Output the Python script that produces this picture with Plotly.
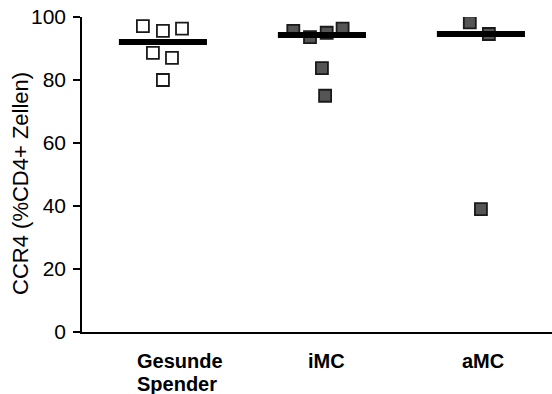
import numpy as np
import plotly.graph_objects as go

categories = ["Gesunde<br>Spender", "iMC", "aMC"]
values_gesund = [97.1, 95.6, 96.3, 88.6, 87.0, 80.0]
values_imc = [95.6, 93.6, 95.0, 96.3, 83.8, 75.0]
values_amc = [98.3, 94.6, 39.0]
y_ticks = [0, 20, 40, 60, 80, 100]
y_title = "CCR4 (%CD4+ Zellen)"

# horizontal jitter (in category units) used to spread overlapping points
jitter = [
    [-0.126, 0.0, 0.12, -0.063, 0.057, 0.0],
    [-0.18, -0.075, 0.03, 0.13, 0.0, 0.02],
    [-0.07, 0.05, 0.0],
]
groups = [values_gesund, values_imc, values_amc]
fills = ["white", "#555555", "#555555"]
label_shift = [14, 5, 2]
FONT = "Liberation Sans, Arial, sans-serif"

fig = go.Figure()
for i, (vals, jit) in enumerate(zip(groups, jitter)):
    fig.add_trace(go.Scatter(
        x=[i + j for j in jit], y=vals, mode="markers",
        marker=dict(symbol="square", size=12, color=fills[i],
                    line=dict(color="#1a1a1a", width=1.8)),
        showlegend=False, hoverinfo="y"))
for i, vals in enumerate(groups):
    m = float(np.median(vals))
    fig.add_trace(go.Scatter(
        x=[i - 0.277, i + 0.277], y=[m, m], mode="lines",
        line=dict(color="black", width=6), showlegend=False, hoverinfo="skip"))

for i, c in enumerate(categories):
    lines = c.split("<br>")
    for k, line in enumerate(lines):
        fig.add_annotation(x=i, y=0, xref="x", yref="paper", text="<b>%s</b>" % line,
                           showarrow=False, xanchor="left" if len(lines) > 1 else "center",
                           yanchor="top",
                           xshift=(label_shift[i] - 42) if len(lines) > 1 else label_shift[i],
                           yshift=-16 - 23 * k,
                           font=dict(size=20, color="black", family=FONT))
fig.add_annotation(x=0, y=0.47, xref="paper", yref="paper", text=y_title,
                   textangle=-90, showarrow=False, xanchor="center", yanchor="middle",
                   xshift=-61,
                   font=dict(size=22, color="black", family=FONT))

fig.update_layout(
    width=552, height=394,
    margin=dict(l=82, r=0, t=17, b=62),
    plot_bgcolor="white", paper_bgcolor="white",
    font=dict(family=FONT, size=20, color="black"),
    xaxis=dict(range=[-0.509, 2.447], showgrid=False, zeroline=False,
               showticklabels=False, ticks="", showline=True,
               linecolor="black", linewidth=1.5),
    yaxis=dict(range=[0, 100], tickvals=y_ticks, showgrid=False, zeroline=False,
               ticks="outside", ticklen=7, tickwidth=1.5, tickcolor="black",
               showline=True, linecolor="black", linewidth=1.5,
               ticklabelstandoff=3, tickfont=dict(size=21)),
)
fig.write_html("out.html")
